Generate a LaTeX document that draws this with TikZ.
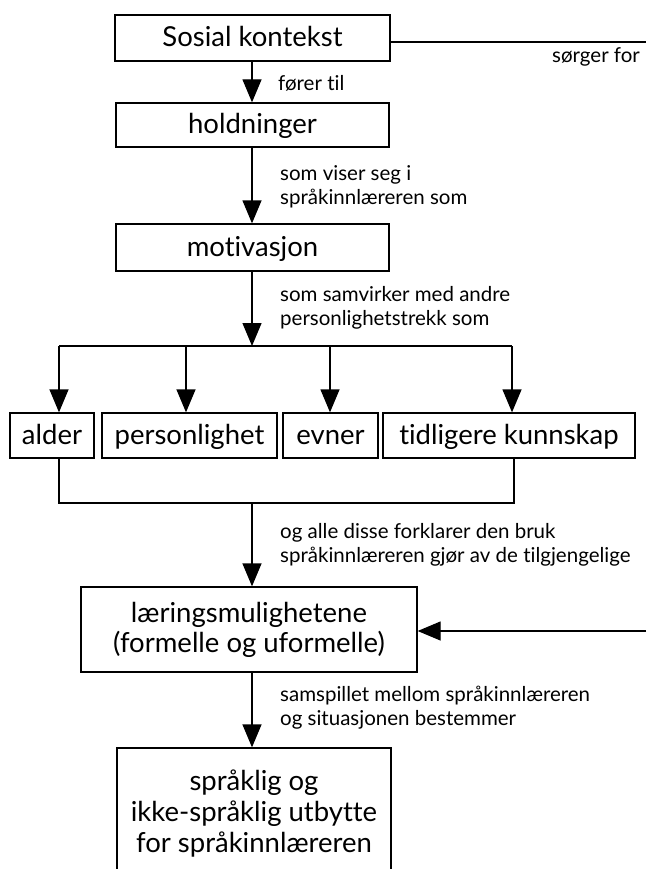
\documentclass[tikz,border=0pt]{standalone}
\usepackage{fontspec}
\setmainfont{Lato}[Ligatures=NoCommon]
\usetikzlibrary{arrows.meta}
\begin{document}
\begin{tikzpicture}[x=1pt,y=-1pt,
  box/.style={draw, line width=1.3pt, inner sep=0pt, align=center,
    font=\fontsize{27.5}{30}\selectfont},
  onebox/.style={box, text height=22pt, text depth=5pt},
  lbl/.style={anchor=west, align=left, inner sep=0pt,
    font=\fontsize{20.5}{24}\selectfont},
  ln/.style={line width=1.3pt},
  arr/.style={line width=1.3pt, -{Triangle[length=23pt,width=19pt]}}]
\useasboundingbox (0,0) rectangle (646,869);
\clip (0,0) rectangle (646,869);
% nodes
\node[onebox, minimum width=275pt, minimum height=46pt] (sk) at (252.5,38) {Sosial kontekst};
\node[onebox, minimum width=273pt, minimum height=44pt] (hold) at (252.5,125) {holdninger};
\node[onebox, minimum width=273pt, minimum height=47pt] (mot) at (252.5,247.5) {motivasjon};
\node[onebox, minimum width=84pt, minimum height=45pt] (alder) at (52,435.5) {alder};
\node[onebox, minimum width=175pt, minimum height=45pt] (pers) at (189.5,435.5) {personlighet};
\node[onebox, minimum width=95pt, minimum height=45pt] (evner) at (330.5,435.5) {evner};
\node[onebox, minimum width=252pt, minimum height=45pt] (tidl) at (509,435.5) {tidligere kunnskap};
\node[box, minimum width=336pt, minimum height=85pt] (laer) at (249,629.5) {læringsmulighetene\\(formelle og uformelle)};
\node[box, minimum width=274pt, minimum height=132pt, font=\fontsize{27.5}{31}\selectfont] (utb) at (254,814) {språklig og\\ikke-språklig utbytte\\ for språkinnlæreren};
% labels
\node[lbl] (l1) at (278,83) {fører til};
\node[lbl] (l2) at (280,187) {som viser seg i\\språkinnlæreren som};
\node[lbl] (l3) at (280,307.5) {som samvirker med andre\\personlighetstrekk som};
\node[lbl] (l4) at (280,545) {og alle disse forklarer den bruk\\språkinnlæreren gjør av de tilgjengelige};
\node[lbl] (l5) at (280,708) {samspillet mellom språkinnlæreren\\og situasjonen bestemmer};
\node[lbl] (l6) at (552,57) {sørger for};
% coordinates
\coordinate (sp) at (252,0);
\coordinate (tb) at (252,346);
\coordinate (tbl) at (59,346);
\coordinate (tbp) at (186,346);
\coordinate (tbe) at (330,346);
\coordinate (tbr) at (512,346);
\coordinate (lbl) at (59,503);
\coordinate (lbm) at (252,503);
\coordinate (lbr) at (514,503);
\coordinate (rout) at (646,42);
\coordinate (rin) at (646,631);
% connectors
\draw[arr] (sk.south -| sp) -- (hold.north -| sp);
\draw[arr] (hold.south -| sp) -- (mot.north -| sp);
\draw[arr] (mot.south -| sp) -- (tb);
\draw[ln] (tbl) -- (tbr);
\draw[arr] (tbl) -- (alder.north -| tbl);
\draw[arr] (tbp) -- (pers.north -| tbp);
\draw[arr] (tbe) -- (evner.north -| tbe);
\draw[arr] (tbr) -- (tidl.north -| tbr);
\draw[ln] (alder.south -| lbl) -- (lbl) -- (lbr) -- (tidl.south -| lbr);
\draw[arr] (lbm) -- (laer.north -| lbm);
\draw[arr] (laer.south -| sp) -- (utb.north -| sp);
\draw[ln] (sk.east |- rout) -- (rout);
\draw[arr] (rin) -- (laer.east |- rin);
\end{tikzpicture}
\end{document}
